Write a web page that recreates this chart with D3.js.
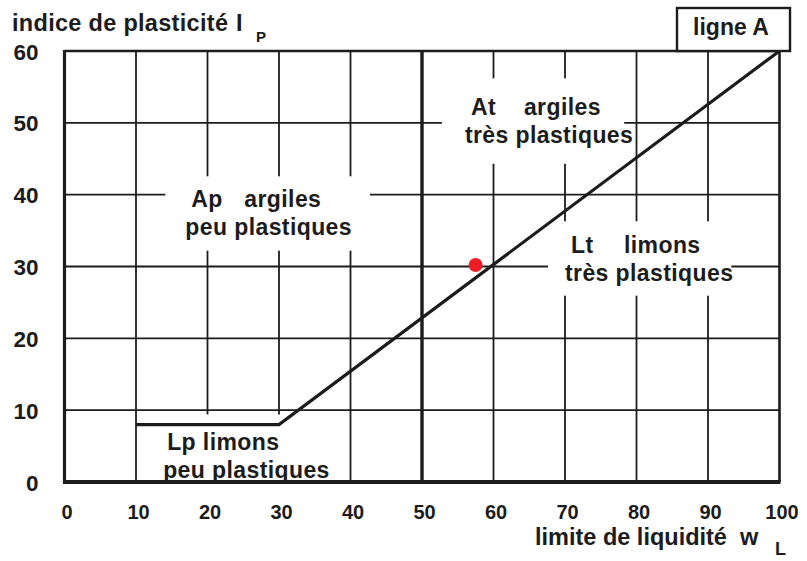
<!DOCTYPE html>
<html>
<head>
<meta charset="utf-8">
<script src="https://cdn.jsdelivr.net/npm/d3@7"></script>
<style>
  html, body { margin: 0; padding: 0; background: #fff; }
  svg { display: block; }
  text { font-family: "Liberation Sans", Arial, Helvetica, sans-serif; font-weight: bold; fill: #1c1c1c; }
</style>
</head>
<body>
<svg id="chart" width="807" height="561"></svg>
<script>
// Plasticity chart (Casagrande): liquid limit wL vs plasticity index Ip
const xTicks = [0, 10, 20, 30, 40, 50, 60, 70, 80, 90, 100];
const yTicks = [0, 10, 20, 30, 40, 50, 60];
const xGrid = [10, 20, 30, 40, 60, 70, 80, 90];
const yGrid = [10, 20, 30, 40, 50];

// "ligne A" with its low-plasticity ledge
const aLine = [
  { wL: 10, Ip: 8 },
  { wL: 30, Ip: 8 },
  { wL: 100, Ip: 60 }
];
// boundary between low and high plasticity
const wLBoundary = 50;

// sample point
const samplePoint = { wL: 57.5, Ip: 30.2 };

// zone labels: code, name, second line, anchor (left of line 2, baseline of line 1)
const zones = [
  { code: "Ap", name: "argiles", desc: "peu plastiques", wL: 16.9, Ip: 38.3 },
  { code: "At", name: "argiles", desc: "très plastiques", wL: 56.0, Ip: 51.1 },
  { code: "Lt", name: "limons", desc: "très plastiques", wL: 70.0, Ip: 31.9 },
  { code: "Lp", name: "limons", desc: "peu plastiques", wL: 13.8, Ip: 4.45 }
];

const svg = d3.select("#chart");
const x = d3.scaleLinear().domain([0, 100]).range([64.5, 779.5]);
const y = d3.scaleLinear().domain([0, 60]).range([482, 51]);
const ink = "#1c1c1c";

// grid
const g = svg.append("g");
g.selectAll("line.vg").data(xGrid).join("line")
  .attr("x1", d => x(d)).attr("x2", d => x(d))
  .attr("y1", y(0)).attr("y2", y(60))
  .attr("stroke", ink).attr("stroke-width", 1.8);
g.selectAll("line.hg").data(yGrid).join("line")
  .attr("x1", x(0)).attr("x2", x(100))
  .attr("y1", d => y(d)).attr("y2", d => y(d))
  .attr("stroke", ink).attr("stroke-width", 1.8);

// white boxes behind zone labels (padding: left, right, top, bottom)
const pads = {
  Ap: [20, 18, 14, 11],
  At: [23, -9, 20, 16],
  Lt: [17, -2, 15, 10],
  Lp: [23, 18, 19, 6]
};
const fs = 23;
const labelG = svg.append("g");
zones.forEach(z => {
  const gx = x(z.wL), gy = y(z.Ip);
  const grp = labelG.append("g");
  const bg = grp.append("rect").attr("fill", "#fff");
  const t1 = grp.append("text").attr("font-size", fs).attr("letter-spacing", 0.4);
  if (z.code === "Lp") {
    t1.append("tspan").attr("x", gx + 4).attr("y", gy).text(z.code + " " + z.name);
  } else {
    t1.append("tspan").attr("x", gx + 6).attr("y", gy).text(z.code);
    t1.append("tspan").attr("x", gx + 59).attr("y", gy).text(z.name);
  }
  const t2 = grp.append("text").attr("font-size", fs).attr("letter-spacing", 0.4)
    .attr("x", gx).attr("y", gy + 28).text(z.desc);
  const b1 = t1.node().getBBox(), b2 = t2.node().getBBox();
  const x0 = Math.min(b1.x, b2.x), x1 = Math.max(b1.x + b1.width, b2.x + b2.width);
  const capTop = gy - fs * 0.72, descBot = gy + 28 + fs * 0.21;
  const p = pads[z.code];
  let bottom = descBot + p[3];
  if (z.code === "Lp") bottom = y(0);
  bg.attr("x", x0 - p[0]).attr("width", (x1 + p[1]) - (x0 - p[0]))
    .attr("y", capTop - p[2]).attr("height", bottom - (capTop - p[2]));
});

// boundary wL = 50
svg.append("line")
  .attr("x1", x(wLBoundary)).attr("x2", x(wLBoundary))
  .attr("y1", y(0)).attr("y2", y(60))
  .attr("stroke", ink).attr("stroke-width", 3.4);

// frame
svg.append("line").attr("x1", x(0)).attr("x2", x(100)).attr("y1", y(60)).attr("y2", y(60))
  .attr("stroke", ink).attr("stroke-width", 2.6);
svg.append("line").attr("x1", x(100)).attr("x2", x(100)).attr("y1", y(60)).attr("y2", y(0))
  .attr("stroke", ink).attr("stroke-width", 2.6);
svg.append("line").attr("x1", x(0)).attr("x2", x(0)).attr("y1", y(60) - 1).attr("y2", y(0) + 2)
  .attr("stroke", ink).attr("stroke-width", 3.2);
svg.append("line").attr("x1", x(0) - 1.5).attr("x2", x(100) + 1).attr("y1", y(0)).attr("y2", y(0))
  .attr("stroke", ink).attr("stroke-width", 4);

// A-line
svg.append("path")
  .datum(aLine)
  .attr("d", d3.line().x(d => x(d.wL)).y(d => y(d.Ip)))
  .attr("fill", "none").attr("stroke", ink).attr("stroke-width", 3.2)
  .attr("stroke-linejoin", "miter");

// sample point
svg.append("circle")
  .attr("cx", x(samplePoint.wL)).attr("cy", y(samplePoint.Ip)).attr("r", 7)
  .attr("fill", "#ee1c25");

// "ligne A" tag box
const tag = svg.append("g");
tag.append("rect")
  .attr("x", 677).attr("y", 8).attr("width", 113).attr("height", y(60) - 8)
  .attr("fill", "#fff").attr("stroke", ink).attr("stroke-width", 2.4);
tag.append("text").attr("x", 731).attr("y", 35).attr("text-anchor", "middle")
  .attr("font-size", 23).text("ligne A");

// axes: tick labels
const xAxis = svg.append("g").attr("transform", `translate(0,${y(0)})`)
  .call(d3.axisBottom(x).tickValues(xTicks).tickSize(0).tickFormat(d3.format("d")));
xAxis.select(".domain").remove();
xAxis.selectAll("text").attr("y", 37).attr("dy", 0).attr("dx", 2)
  .attr("font-size", 20).attr("fill", ink)
  .style("font-family", '"Liberation Sans", Arial, sans-serif').style("font-weight", "bold");

const yAxis = svg.append("g").attr("transform", `translate(${x(0)},0)`)
  .call(d3.axisLeft(y).tickValues(yTicks).tickSize(0).tickFormat(d3.format("d")));
yAxis.select(".domain").remove();
yAxis.selectAll("text").attr("x", -26).attr("dy", "0.36em")
  .attr("font-size", 22.5).attr("fill", ink)
  .style("font-family", '"Liberation Sans", Arial, sans-serif').style("font-weight", "bold");

// axis titles
svg.append("text").attr("x", 12).attr("y", 31).attr("font-size", 23.5).attr("letter-spacing", 0.3)
  .text("indice de plasticité");
svg.append("text").attr("x", 236).attr("y", 31).attr("font-size", 23.5).text("I");
svg.append("text").attr("x", 256).attr("y", 42).attr("font-size", 15).text("P");

svg.append("text").attr("x", 535).attr("y", 545).attr("font-size", 23.5)
  .text("limite de liquidité");
svg.append("text").attr("x", 740).attr("y", 545).attr("font-size", 23.5).text("w");
svg.append("text").attr("x", 775).attr("y", 555).attr("font-size", 18).text("L");
</script>
</body>
</html>
